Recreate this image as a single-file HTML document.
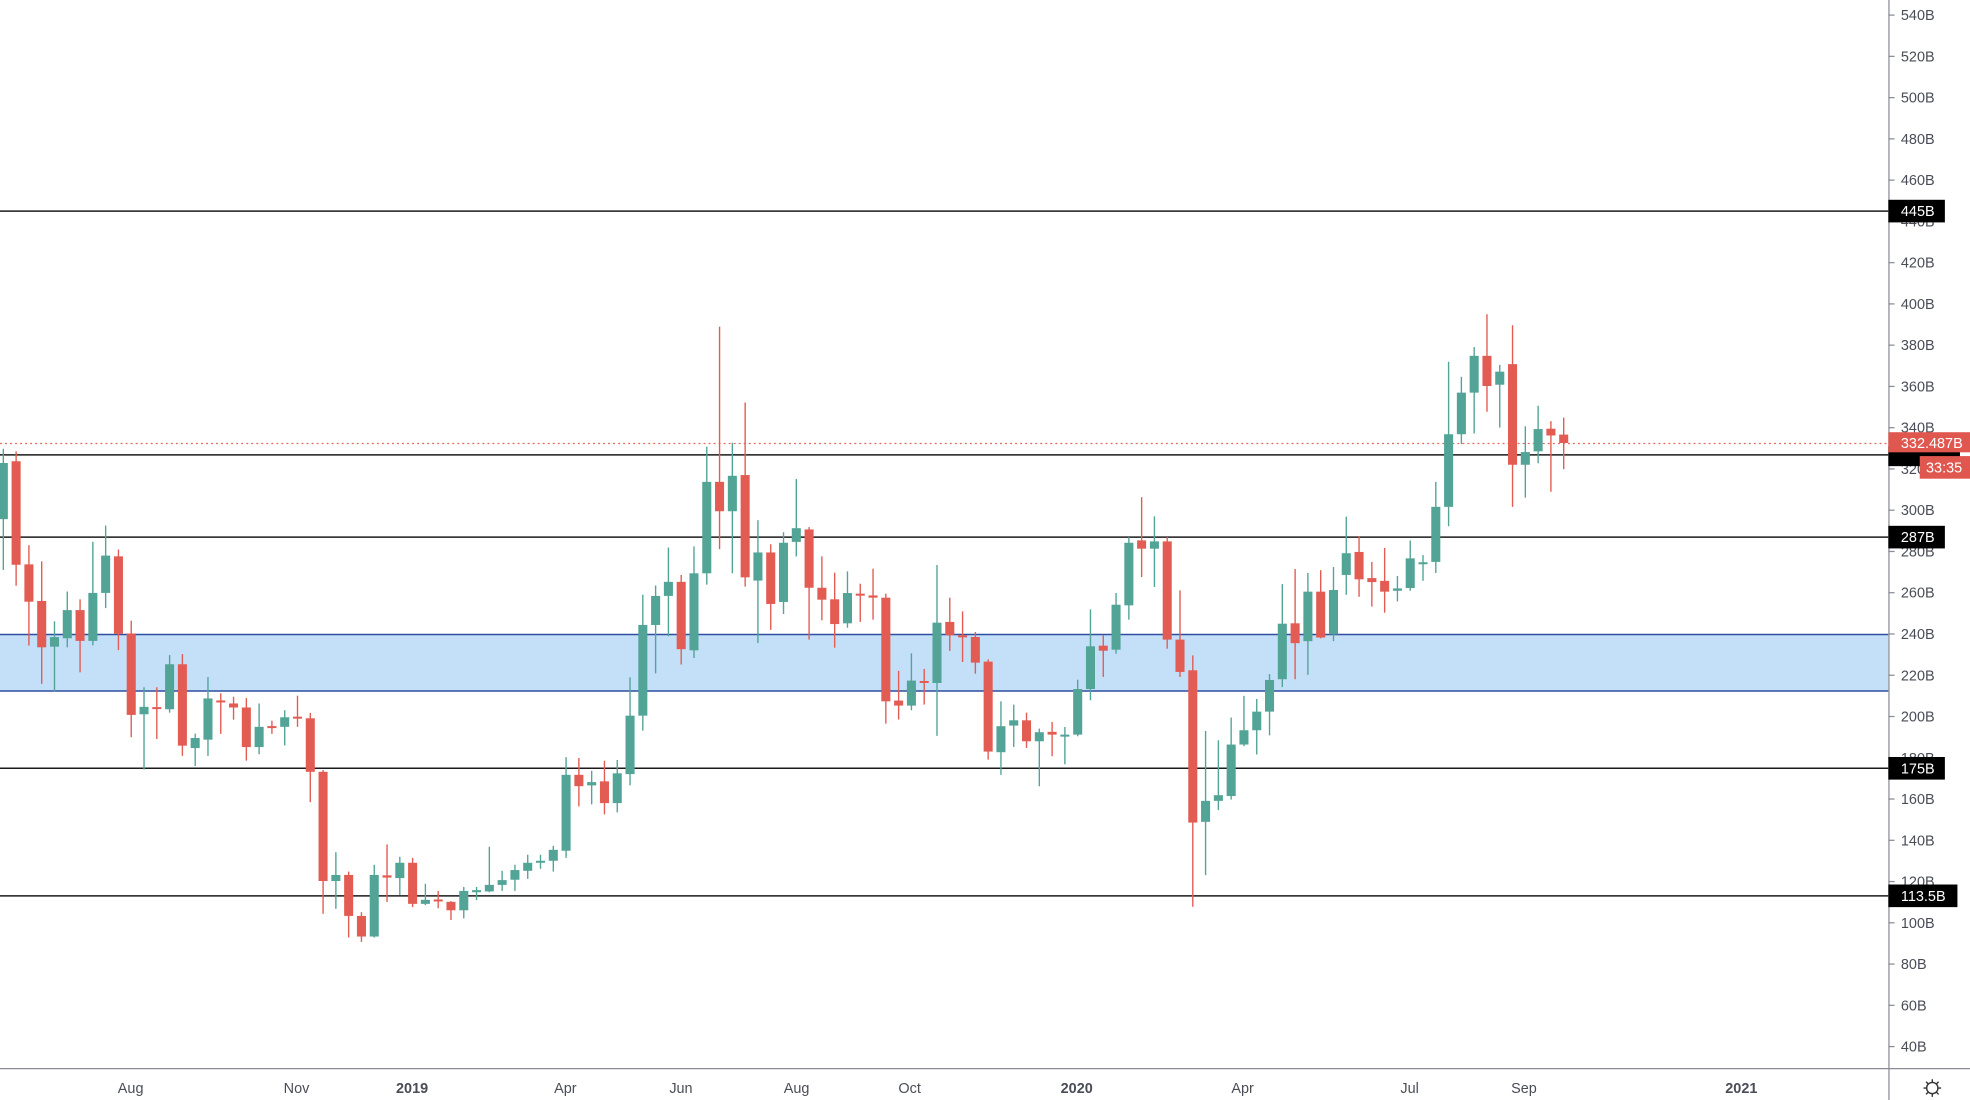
<!DOCTYPE html>
<html><head><meta charset="utf-8">
<style>
html,body{margin:0;padding:0;background:#fff;}
svg{display:block;}
text{font-family:"Liberation Sans","DejaVu Sans",sans-serif;}
</style></head>
<body>
<svg id="c" width="1970" height="1100" viewBox="0 0 1568 875.5" xmlns="http://www.w3.org/2000/svg">
<rect x="0" y="0" width="1568" height="875.5" fill="#fff"/>
<!-- band -->
<rect x="0" y="505" width="1503" height="45" fill="#c4dff8"/>
<line x1="0" y1="505" x2="1503" y2="505" stroke="#2f4fa0" stroke-width="1.2"/>
<line x1="0" y1="550" x2="1503" y2="550" stroke="#2f4fa0" stroke-width="1.2"/>
<!-- horizontal lines -->
<g stroke="#1b1b1b" stroke-width="1.2">
<line x1="0" y1="168" x2="1503" y2="168"/>
<line x1="0" y1="362" x2="1503" y2="362"/>
<line x1="0" y1="427.5" x2="1503" y2="427.5"/>
<line x1="0" y1="611.5" x2="1503" y2="611.5"/>
<line x1="0" y1="713" x2="1503" y2="713"/>
</g>
<line x1="0" y1="353" x2="1503" y2="353" stroke="#e4635a" stroke-width="1" stroke-dasharray="1.5,2.5"/>
<g id="candles"></g>
<!-- axes -->
<line x1="1503.5" y1="0" x2="1503.5" y2="875.5" stroke="#8a8d96" stroke-width="1"/>
<line x1="0" y1="850.5" x2="1568" y2="850.5" stroke="#8a8d96" stroke-width="1"/>
<g id="yax" font-size="11.5" fill="#4a4d57"></g>
<g font-size="11.5" fill="#4a4d57" text-anchor="middle">
<text x="104" y="870">Aug</text>
<text x="236" y="870">Nov</text>
<text x="328" y="870" font-weight="bold">2019</text>
<text x="450" y="870">Apr</text>
<text x="542" y="870">Jun</text>
<text x="634" y="870">Aug</text>
<text x="724" y="870">Oct</text>
<text x="857" y="870" font-weight="bold">2020</text>
<text x="989" y="870">Apr</text>
<text x="1122" y="870">Jul</text>
<text x="1213" y="870">Sep</text>
<text x="1386" y="870" font-weight="bold">2021</text>
</g>
<!-- gear -->
<g transform="translate(1538,866)" stroke="#333" stroke-width="1.1" fill="none">
<circle r="4.5"/>
<line x1="0" y1="-7" x2="0" y2="-4.5"/><line x1="0" y1="7" x2="0" y2="4.5"/>
<line x1="-7" y1="0" x2="-4.5" y2="0"/><line x1="7" y1="0" x2="4.5" y2="0"/>
<line x1="-5" y1="-5" x2="-3.2" y2="-3.2"/><line x1="5" y1="5" x2="3.2" y2="3.2"/>
<line x1="-5" y1="5" x2="-3.2" y2="3.2"/><line x1="5" y1="-5" x2="3.2" y2="-3.2"/>
</g>
<!-- price boxes -->
<g font-size="11.5" fill="#fff">
<rect x="1503" y="159" width="45" height="18" fill="#000"/><text x="1513" y="172">445B</text>
<rect x="1503" y="418.5" width="45" height="18" fill="#000"/><text x="1513" y="431.5">287B</text>
<rect x="1503" y="602.5" width="45" height="18" fill="#000"/><text x="1513" y="615.5">175B</text>
<rect x="1503" y="704" width="55" height="18" fill="#000"/><text x="1513" y="717">113.5B</text>
<rect x="1503" y="355" width="57" height="16" fill="#000"/>
<rect x="1503" y="344" width="65" height="16" fill="#e0574f"/><text x="1513" y="356.5">332.487B</text>
<rect x="1528" y="363" width="40" height="18" fill="#e0574f"/><text x="1533" y="376">33:35</text>
</g>
</svg>
<script>
var D=[
['G',368.5,413.2,357.2,453.6],['R',367.1,449.5,359.3,466.2],['R',449.2,478.9,433.9,513.8],['R',478.3,515.2,446.8,544.3],
['G',507.1,514.7,494.5,550.2],['G',485.6,508,470.8,515.2],['R',485.6,510.1,477,535.1],['G',471.9,510.1,431.2,513.6],
['G',442.2,471.9,418.3,484],['R',442.8,504.4,437.4,517.4],['R',504.2,569,494,586.8],['G',562.6,568.5,547,612.4],
['R',562.8,563.9,547,588.2],['G',528.7,564.5,521.4,567.2],['R',528.7,593.5,520.6,601.6],['G',587.4,595.4,583.9,609.7],
['G',555.9,588.7,538.9,601.6],['R',557.5,558.8,551.8,584.1],['R',559.9,563.1,554.5,572.8],['R',563.1,594.6,555.6,605.4],
['G',578.5,594.6,559.9,600.3],['R',577.9,579,573.6,584.1],['G',570.9,578.5,565.3,593.3],['R',570.4,571.7,553.7,578.5],
['R',571.7,614.3,567.4,638.5],['R',614.3,701.2,612.9,727.3],['G',696.4,701.2,678.3,723.3],['R',696.4,729,693.7,746.2],
['R',729,745.4,726,749.7],['G',696.4,745.4,688.3,746.2],['R',696.7,698.5,672.1,717.9],['G',686.7,698.9,681.9,712.4],
['R',686.7,719.4,682.8,722],['G',716.2,719.4,703.4,720.4],['R',715.9,717.5,709.1,722.9],['R',717.8,724.5,717.2,732.2],
['G',709.1,724.5,705.9,731],['G',708.5,709.8,705.9,716.5],['G',704.3,709.5,673.9,710.1],['G',700.5,704.3,693.1,709.1],
['G',692.5,700.2,688.3,709.1],['G',686.7,693.1,680.3,699.5],['G',685.1,686.7,680.3,691.5],['G',676.4,685.1,673.2,693.7],
['G',616.7,677.1,602.6,682.8],['R',616.7,625.7,603.3,641.8],['G',622.5,625.1,613.5,640.2],['R',621.9,639.2,605.5,648.2],
['G',615.5,639.2,604.9,646.6],['G',569.6,616.1,539.1,625.1],['G',497.4,569.6,473.4,581.5],['G',474.3,497.4,466,535.9],
['G',463.1,474.3,435.8,506.4],['R',463.1,516.7,457.6,528.9],['G',456.3,517.6,434.9,523.7],['G',383.5,456.3,355.6,465.3],
['R',383.5,406.9,260,437.1],['G',378.7,406.9,352.4,456.3],['R',378.1,459.5,320.3,466.9],['G',439.7,462.1,414,511.8],
['R',439.7,480.7,433.2,501.3],['G',432,479.1,423.6,488.7],['G',420.4,431.3,381.3,442.9],['R',421.4,467.8,419.5,509.1],
['R',467.8,477.3,442.8,493.7],['R',477,496.7,455.8,515.5],['G',472,496.1,454.8,499.6],['R',472.5,473.9,464.6,495],
['R',473.9,475.7,452.6,493.2],['R',475.7,558.2,472.5,575.9],['R',557.6,561.6,534,572.7],['G',541.7,561.6,520,565.3],
['R',542,543.3,532.4,560.8],['G',495.6,543.6,449.7,585.7],['R',495,505.7,475.7,518.1],['R',505.7,506.7,486.6,526.9],
['R',507,527.4,503,536.2],['R',526.6,598.2,524.8,604.6],['G',578,598.7,558.2,616.7],['G',573.3,577.5,560.8,594.5],
['R',573.3,590,567.2,595.3],['G',582.8,590,579.9,625.8],['R',582.5,584.7,574.6,601.9],['G',584.7,585.7,578.6,608.3],
['G',548.4,584.7,541,586],['G',514.4,548.4,485,557.4],['R',513.9,517.9,505.7,538.8],['G',481.3,517.1,472,520.3],
['G',432,481.8,427.5,493.2],['R',430.1,436.7,395.7,459.3],['G',430.9,436.7,411,467.2],['R',430.9,509.1,427.5,516.3],
['R',509.1,534.8,469.9,538.8],['R',533.5,654.7,521.6,721.7],['G',637.4,654.1,581.8,696.5],['G',632.9,637.4,589.2,644.8],
['G',592.6,633.6,571.1,636.4],['G',581.2,592.6,553.8,593.9],['G',566.4,581.2,556.3,600.5],['G',541.2,566.4,536.5,585.3],
['G',496.4,540.6,464.9,546.9],['R',496.1,511.9,452.9,540.6],['G',470.9,510.3,456,537.1],['R',470.9,507.4,453.8,508],
['G',469.6,504.9,451.3,510.3],['G',440.3,457.6,411.2,473.4],['R',439.3,461.1,426.7,475],['R',460.1,463.3,447.2,482.8],
['R',462.3,470.9,436.2,487.6],['G',468.3,470.2,458.5,478.7],['G',444.4,468,430.2,470.2],['G',447.5,448.5,441.8,462.3],
['G',403.4,447.2,383.5,456],['G',345.6,403.4,287.9,418.8],['G',312.5,345.6,299.9,353.5],['G',283.2,312.5,276.2,345],
['R',283.2,307.2,250.1,327.7],['G',295.8,306.2,290.4,340.3],['R',289.8,369.9,258.9,403.4],['G',359.8,369.9,339.3,396.1],
['G',341.5,359.2,322.9,368.7],['R',341.2,346.6,335.2,391.4],['R',345.9,352.6,332.4,373.4]
];
var ns="http://www.w3.org/2000/svg",g=document.getElementById('candles'),s='';
for(var i=0;i<D.length;i++){
 var d=D[i],x=2.65+10.18*i,col=d[0]=='G'?'#52a497':'#e25c53';
 var t=Math.min(d[1],d[2]),b=Math.max(d[1],d[2]);if(b-t<1.6){b=t+1.6;}
 s+='<line x1="'+x+'" x2="'+x+'" y1="'+d[3]+'" y2="'+d[4]+'" stroke="'+col+'" stroke-width="1.1"/>';
 s+='<rect x="'+(x-3.6)+'" y="'+t+'" width="7.2" height="'+(b-t)+'" fill="'+col+'"/>';
}
g.innerHTML=s;
var ya=document.getElementById('yax'),t2='';
for(var v=540;v>=40;v-=20){var y=12+(540-v)*1.642;
 t2+='<line x1="1503" x2="1508" y1="'+y+'" y2="'+y+'" stroke="#8a8d96" stroke-width="1"/>';
 t2+='<text x="1513" y="'+(y+4)+'">'+v+'B</text>';}
ya.innerHTML=t2;
</script>
</body></html>
